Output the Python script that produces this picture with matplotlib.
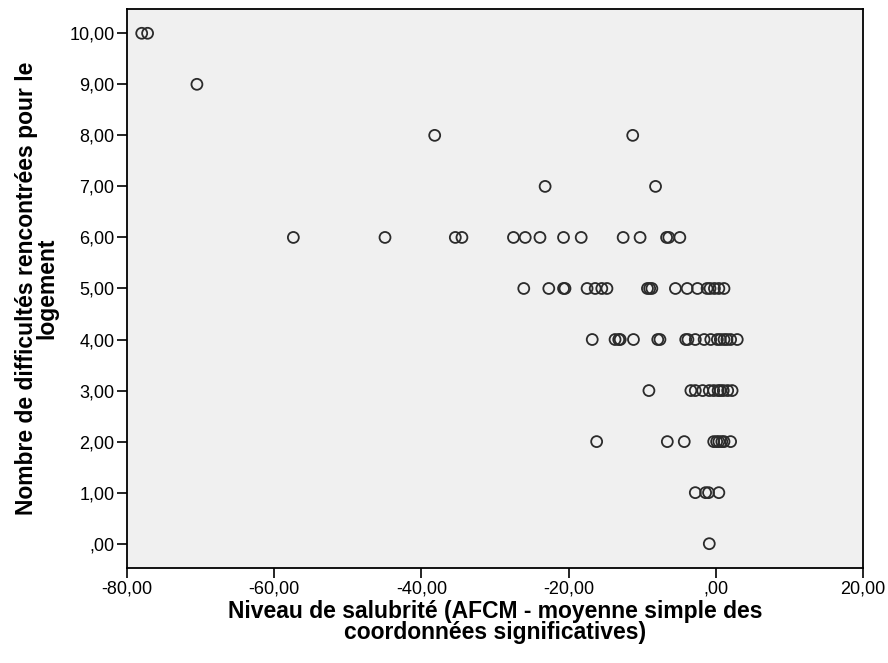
import matplotlib
matplotlib.use('Agg')
import matplotlib.pyplot as plt
from matplotlib.ticker import FuncFormatter

# Valeurs : niveau de salubrité par nombre de difficultés
x_niveau_10 = [-78.0, -77.2]
x_niveau_9 = [-70.5]
x_niveau_8 = [-38.2, -11.3]
x_niveau_7 = [-23.2, -8.2]
x_niveau_6 = [-57.4, -44.95, -35.4, -34.5, -27.5, -25.9, -23.9, -20.7, -18.3,
              -12.6, -10.3, -6.7, -6.4, -4.9]
x_niveau_5 = [-26.1, -22.7, -20.7, -20.5, -17.5, -16.4, -15.5, -14.8, -9.3, -9.0,
              -8.7, -5.5, -3.9, -2.5, -1.2, -0.8, -0.2, 0.4, 1.1]
x_niveau_4 = [-16.8, -13.7, -13.2, -13.0, -11.2, -7.9, -7.6, -4.1, -3.8, -2.8,
              -1.6, -0.7, 0.2, 0.6, 1.1, 1.5, 2.0, 2.9]
x_niveau_3 = [-9.1, -3.4, -2.8, -1.8, -0.9, -0.3, 0.3, 0.6, 1.0, 1.6, 2.2]
x_niveau_2 = [-16.2, -6.6, -4.3, -0.3, 0.1, 0.4, 0.8, 1.1, 2.0]
x_niveau_1 = [-2.8, -1.4, -1.0, 0.4]
x_niveau_0 = [-0.9]

lignes = {10: x_niveau_10, 9: x_niveau_9, 8: x_niveau_8, 7: x_niveau_7,
          6: x_niveau_6, 5: x_niveau_5, 4: x_niveau_4, 3: x_niveau_3,
          2: x_niveau_2, 1: x_niveau_1, 0: x_niveau_0}

salubrite = [x for y, xs in lignes.items() for x in xs]
difficultes = [y for y, xs in lignes.items() for x in xs]

plt.rcParams['font.family'] = ['Liberation Sans', 'DejaVu Sans']

fig = plt.figure(figsize=(8.88, 6.63), dpi=100)
ax = fig.add_axes([0.143, 0.143, 0.829, 0.843])
ax.set_facecolor('#f0f0f0')

ax.scatter(salubrite, difficultes, s=62, facecolors='none', edgecolors='#2b2b2b', linewidths=1.3)

ax.set_xlim(-80, 20)
ax.set_ylim(-0.48, 10.47)
ax.set_xticks([-80, -60, -40, -20, 0, 20])
ax.set_yticks(range(0, 11))

def virgule(v, pos):
    s = f'{v:.2f}'.replace('.', ',')
    if s.startswith('0,'):
        s = s[1:]
    return s

ax.xaxis.set_major_formatter(FuncFormatter(virgule))
ax.yaxis.set_major_formatter(FuncFormatter(virgule))
ax.tick_params(direction='out', length=7, width=1.2, labelsize=13, colors='black', pad=2)

for sp in ax.spines.values():
    sp.set_linewidth(1.3)
    sp.set_color('black')

ax.set_xlabel('Niveau de salubrité (AFCM - moyenne simple des\ncoordonnées significatives)',
              fontsize=16.5, fontweight='bold', linespacing=0.85, labelpad=2)
ax.set_ylabel('Nombre de difficultés rencontrées pour le\nlogement',
              fontsize=16.5, fontweight='bold', linespacing=0.85, labelpad=8)

plt.savefig('out.png', dpi=100)
